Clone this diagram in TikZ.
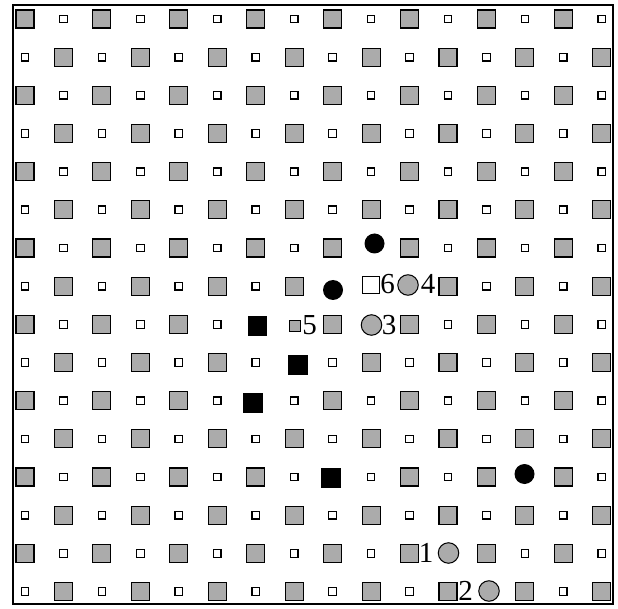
\documentclass[tikz,border=0pt]{standalone}
\usepackage{fontspec}
\setmainfont{Liberation Serif}
\begin{document}
\begin{tikzpicture}[x=1pt,y=-1pt,
  big/.style={rectangle,draw=black,line width=1.1pt,fill=black!33,minimum size=18pt,inner sep=0pt},
  small/.style={rectangle,draw=black,line width=1.2pt,fill=white,minimum size=7.5pt,inner sep=0pt},
  blacksq/.style={rectangle,fill=black,minimum size=19.5pt,inner sep=0pt},
  blackdot/.style={circle,fill=black,minimum size=20pt,inner sep=0pt},
  graydot/.style={circle,draw=black,line width=1pt,fill=black!33,minimum size=20.5pt,inner sep=0pt},
  whitesq/.style={rectangle,draw=black,line width=0.8pt,fill=white,minimum size=16.5pt,inner sep=0pt},
  tinygray/.style={rectangle,draw=black,line width=1pt,fill=black!33,minimum size=11pt,inner sep=0pt},
  lab/.style={font=\fontsize{29}{29}\selectfont,inner sep=0pt}]
\useasboundingbox (0,0) rectangle (618,609);
\fill[white] (0,0) rectangle (618,609);
\draw[line width=1.6pt] (13,5) rectangle (613,604);
% special cells (row-col) that are not part of the regular pattern
\foreach \s in {7-10,8-9,8-10,8-11,9-7,9-8,9-10,10-8,11-7,13-9,13-14,15-12,16-13}
  {\expandafter\xdef\csname skip-\s\endcsname{1}}
\foreach \r in {1,...,16}{
  \foreach \c in {1,...,16}{
    \ifcsname skip-\r-\c\endcsname\else
      \pgfmathtruncatemacro{\parity}{mod(\r+\c,2)}
      \pgfmathsetmacro{\xx}{25+(\c-1)*38.45}
      \pgfmathsetmacro{\yy}{19+(\r-1)*38.17}
      \ifnum\parity=0
        \node[big] (g-\r-\c) at (\xx,\yy) {};
      \else
        \node[small] (g-\r-\c) at (\xx,\yy) {};
      \fi
    \fi
  }
}
% black squares
\node[blacksq] (b1) at (257.5,326) {};
\node[blacksq] (b2) at (298,365) {};
\node[blacksq] (b3) at (253,403) {};
\node[blacksq] (b4) at (331,478) {};
% black circles
\node[blackdot] (d1) at (374.5,243.5) {};
\node[blackdot] (d2) at (333,290) {};
\node[blackdot] (d3) at (524.5,474) {};
% white square 6
\node[whitesq] (w6) at (371,285) {};
\node[lab] (l6) at (387.5,284) {6};
% gray circle 4
\node[graydot] (c4) at (408,285) {};
\node[lab] (l4) at (428,284) {4};
% tiny gray square 5
\node[tinygray] (t5) at (295,326) {};
\node[lab] (l5) at (309.5,325) {5};
% gray circle 3
\node[graydot] (c3) at (371.5,325) {};
\node[lab] (l3) at (389,325) {3};
% gray circle 1
\node[lab] (l1) at (426,553) {1};
\node[graydot] (c1) at (448.5,553) {};
% gray circle 2
\node[lab] (l2) at (465.5,591) {2};
\node[graydot] (c2) at (489,591) {};
\end{tikzpicture}
\end{document}
